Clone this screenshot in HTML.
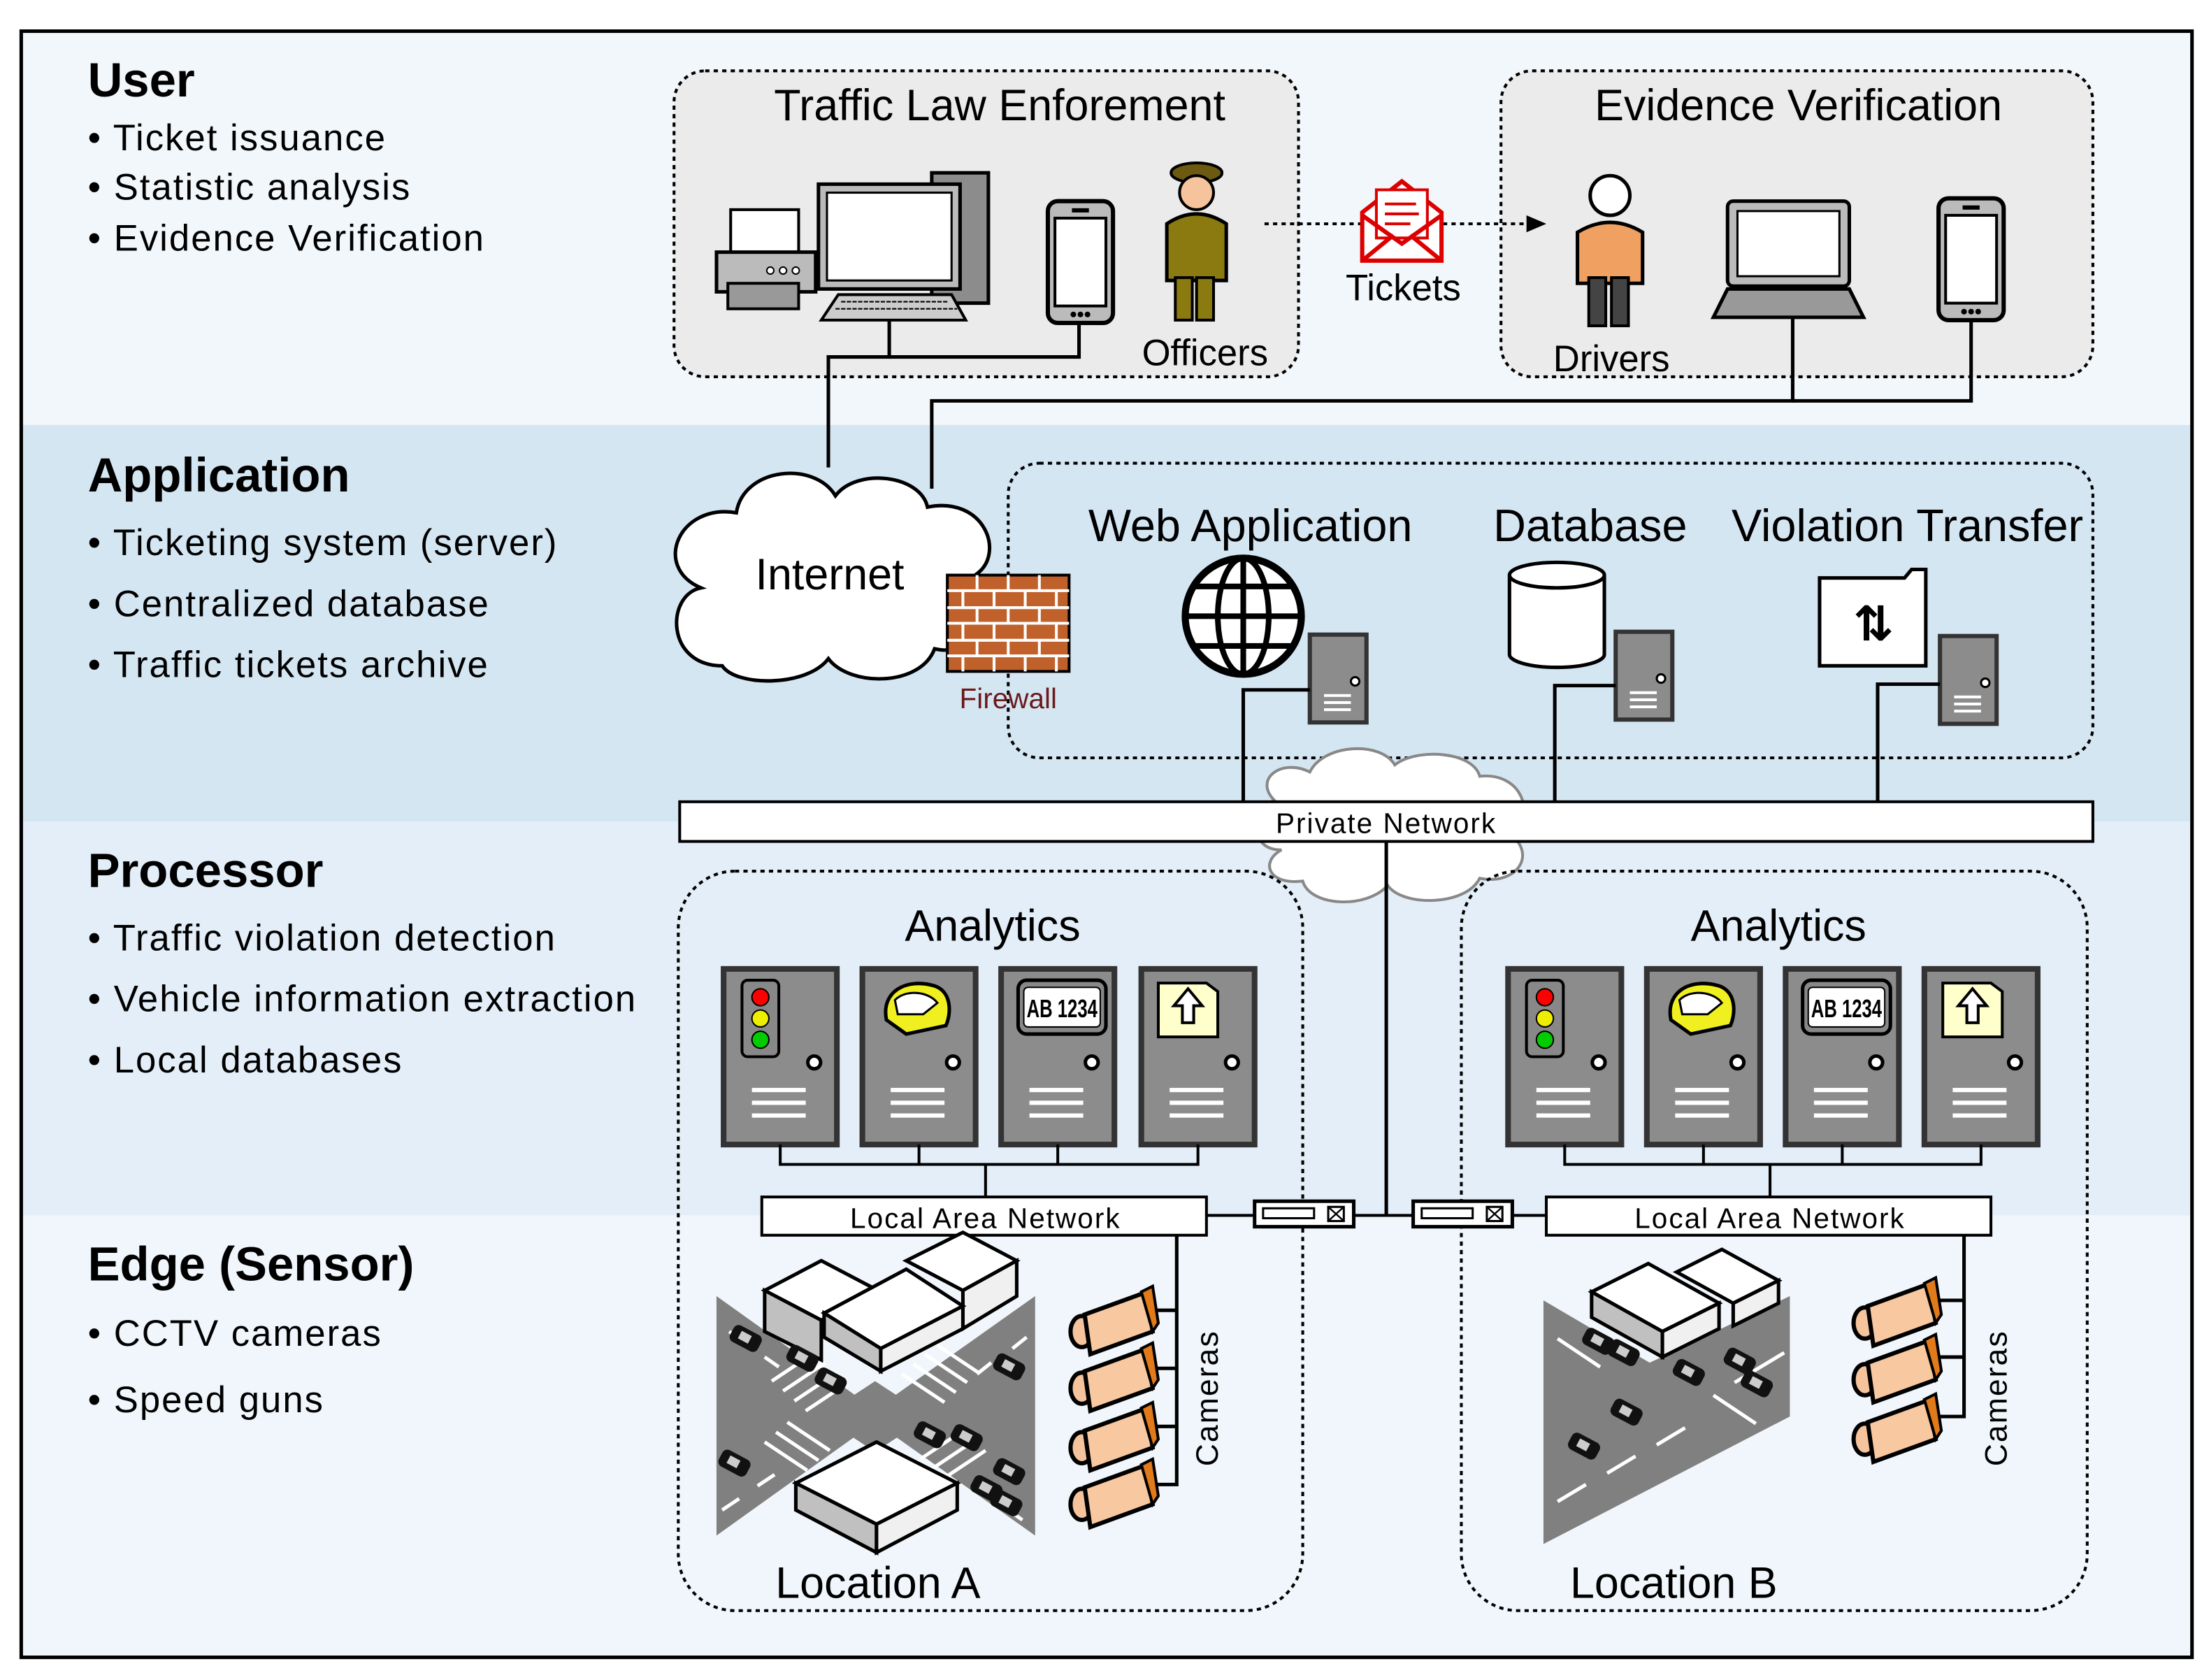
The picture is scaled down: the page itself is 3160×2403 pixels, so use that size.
<!DOCTYPE html>
<html><head><meta charset="utf-8"><style>
html,body{margin:0;padding:0;background:#fff;}
svg{display:block;}
text{font-family:"Liberation Sans","DejaVu Sans",sans-serif;fill:#000;}
</style></head><body>
<svg width="3160" height="2403" viewBox="0 0 1560 1186" preserveAspectRatio="none" xmlns="http://www.w3.org/2000/svg">
<defs>
 <g id="srv">
  <rect x="0" y="0" width="80" height="124" fill="#8c8c8c" stroke="#333" stroke-width="4"/>
  <circle cx="64" cy="66" r="4.5" fill="#fff" stroke="#000" stroke-width="2.5"/>
  <rect x="20" y="84" width="38" height="3" fill="#fff"/><rect x="20" y="93" width="38" height="3" fill="#fff"/><rect x="20" y="102" width="38" height="3" fill="#fff"/>
 </g>
 <g id="ssrv">
  <rect x="0" y="0" width="40" height="62" fill="#8c8c8c" stroke="#333" stroke-width="3"/>
  <circle cx="32" cy="33" r="3" fill="#fff" stroke="#000" stroke-width="1.5"/>
  <rect x="10" y="42" width="19" height="2" fill="#fff"/><rect x="10" y="47" width="19" height="2" fill="#fff"/><rect x="10" y="52" width="19" height="2" fill="#fff"/>
 </g>
 <g id="cam">
  <ellipse cx="4" cy="22" rx="8" ry="11" fill="#f6c49c" stroke="#000" stroke-width="3"/>
  <polygon points="6,10 50,-6 54,22 10,38" fill="#f8c8a0" stroke="#000" stroke-width="3"/>
  <polygon points="46,-6 54,-10 58,16 54,22" fill="#e07a1a" stroke="#000" stroke-width="2"/>
 </g>
 <g id="phone">
  <rect x="0" y="0" width="46" height="86" rx="7" fill="#bbb" stroke="#000" stroke-width="3"/>
  <rect x="5" y="12" width="36" height="62" fill="#fff" stroke="#000" stroke-width="2"/>
  <rect x="17" y="5" width="12" height="3" fill="#000"/>
  <circle cx="18" cy="80" r="2" fill="#000"/><circle cx="23" cy="80" r="2" fill="#000"/><circle cx="28" cy="80" r="2" fill="#000"/>
 </g>
 <g id="car">
  <rect x="0" y="0" width="22" height="13" rx="4" fill="#111" transform="rotate(28)"/>
  <rect x="6" y="3" width="8" height="6" fill="#ccc" transform="rotate(28)"/>
 </g>
 <g id="sw">
  <rect x="0" y="0" width="70" height="18" fill="#fff" stroke="#000" stroke-width="2.5"/>
  <rect x="6" y="5" width="36" height="7" fill="none" stroke="#000" stroke-width="1.5"/>
  <rect x="52" y="4" width="11" height="10" fill="none" stroke="#000" stroke-width="1.5"/>
  <path d="M52,4 L63,14 M63,4 L52,14" stroke="#000" stroke-width="1.2"/>
 </g>
</defs>

<rect x="15" y="22" width="1533" height="1148" fill="#f2f7fb"/>
<rect x="15" y="300" width="1533" height="280" fill="#d5e6f3"/>
<rect x="15" y="580" width="1533" height="278" fill="#e3eef8"/>
<rect x="15" y="858" width="1533" height="312" fill="#f0f6fb"/>
<rect x="15" y="22" width="1533" height="1148" fill="none" stroke="#000" stroke-width="2.5"/>

<g font-size="26" letter-spacing="1">
<text x="62" y="68" font-size="34" font-weight="bold" letter-spacing="0">User</text>
<text x="62" y="106">• Ticket issuance</text>
<text x="62" y="141">• Statistic analysis</text>
<text x="62" y="177">• Evidence Verification</text>
<text x="62" y="347" font-size="34" font-weight="bold" letter-spacing="0">Application</text>
<text x="62" y="392">• Ticketing system (server)</text>
<text x="62" y="435">• Centralized database</text>
<text x="62" y="478">• Traffic tickets archive</text>
<text x="62" y="626" font-size="34" font-weight="bold" letter-spacing="0">Processor</text>
<text x="62" y="671">• Traffic violation detection</text>
<text x="62" y="714">• Vehicle information extraction</text>
<text x="62" y="757">• Local databases</text>
<text x="62" y="904" font-size="34" font-weight="bold" letter-spacing="0">Edge (Sensor)</text>
<text x="62" y="950">• CCTV cameras</text>
<text x="62" y="997">• Speed guns</text>
</g>

<rect x="476" y="50" width="441" height="216" rx="22" fill="#ebebeb" stroke="#000" stroke-width="2" stroke-dasharray="3,3"/>
<rect x="1060" y="50" width="418" height="216" rx="22" fill="#ebebeb" stroke="#000" stroke-width="2" stroke-dasharray="3,3"/>
<text x="706" y="85" font-size="31" text-anchor="middle">Traffic Law Enforement</text>
<text x="1270" y="85" font-size="31" text-anchor="middle">Evidence Verification</text>

<rect x="516" y="148" width="48" height="32" fill="#fff" stroke="#000" stroke-width="2"/>
<rect x="506" y="178" width="70" height="28" fill="#bbb" stroke="#000" stroke-width="2.5"/>
<rect x="514" y="200" width="50" height="18" fill="#999" stroke="#000" stroke-width="2"/>
<circle cx="544" cy="191" r="2.5" fill="#fff" stroke="#000"/><circle cx="553" cy="191" r="2.5" fill="#fff" stroke="#000"/><circle cx="562" cy="191" r="2.5" fill="#fff" stroke="#000"/>
<rect x="658" y="122" width="40" height="92" fill="#8c8c8c" stroke="#000" stroke-width="2.5"/>
<rect x="578" y="130" width="100" height="74" fill="#bbb" stroke="#000" stroke-width="2.5"/>
<rect x="584" y="136" width="88" height="62" fill="#fff" stroke="#000" stroke-width="1.5"/>
<polygon points="592,208 672,208 682,226 580,226" fill="#ccc" stroke="#000" stroke-width="2"/>
<path d="M594,213 H670 M590,218 H676" stroke="#000" stroke-width="1" stroke-dasharray="3,1"/>
<use href="#phone" x="740" y="142"/>
<ellipse cx="845" cy="122" rx="18" ry="7" fill="#6b5a10" stroke="#000" stroke-width="2"/>
<circle cx="845" cy="136" r="12" fill="#f6c49c" stroke="#000" stroke-width="2"/>
<path d="M824,198 V158 Q845,144 866,158 V198 Z" fill="#8a7a10" stroke="#000" stroke-width="2.5"/>
<rect x="830" y="196" width="12" height="30" fill="#8a7a10" stroke="#000" stroke-width="2"/>
<rect x="845" y="196" width="12" height="30" fill="#8a7a10" stroke="#000" stroke-width="2"/>
<text x="851" y="258" font-size="26" text-anchor="middle">Officers</text>
<line x1="893" y1="158" x2="1080" y2="158" stroke="#000" stroke-width="2" stroke-dasharray="3,3"/>
<polygon points="1092,158 1078,152 1078,164" fill="#000"/>
<polygon points="962,150 990,128 1018,150 1018,184 962,184" fill="#fff" stroke="#d00" stroke-width="3"/>
<rect x="972" y="134" width="36" height="34" fill="#fff" stroke="#d00" stroke-width="2"/>
<path d="M978,144 H1000 M978,151 H1002 M978,158 H996" stroke="#d00" stroke-width="2"/>
<path d="M962,152 L990,172 L1018,152 M962,184 L984,166 M1018,184 L996,166" fill="none" stroke="#d00" stroke-width="3"/>
<text x="991" y="212" font-size="26" text-anchor="middle">Tickets</text>
<circle cx="1137" cy="138" r="14" fill="#fff" stroke="#000" stroke-width="2.5"/>
<path d="M1114,200 V164 Q1137,150 1160,164 V200 Z" fill="#f0a060" stroke="#000" stroke-width="2.5"/>
<rect x="1122" y="196" width="12" height="34" fill="#444" stroke="#000" stroke-width="2"/>
<rect x="1138" y="196" width="12" height="34" fill="#444" stroke="#000" stroke-width="2"/>
<text x="1138" y="262" font-size="26" text-anchor="middle">Drivers</text>
<rect x="1220" y="142" width="86" height="60" rx="4" fill="#bbb" stroke="#000" stroke-width="2.5"/>
<rect x="1227" y="149" width="72" height="46" fill="#fff" stroke="#000" stroke-width="1.5"/>
<polygon points="1220,204 1306,204 1316,224 1210,224" fill="#999" stroke="#000" stroke-width="2.5"/>
<use href="#phone" x="1369" y="140"/>

<g stroke="#000" stroke-width="2.5" fill="none">
<path d="M628,226 V252 H585 V330"/>
<path d="M762,228 V252 H628"/>
<path d="M1266,224 V283 H658 V345"/>
<path d="M1392,226 V283 H1266"/>
</g>

<rect x="712" y="327" width="766" height="208" rx="22" fill="none" stroke="#000" stroke-width="2" stroke-dasharray="3,3"/>
<path d="M510,470 C470,470 470,420 495,415 C460,400 480,355 520,362 C525,330 575,325 590,350 C605,330 650,335 655,358 C695,350 710,390 690,405 C715,430 690,465 660,458 C650,485 600,485 585,465 C570,485 520,485 510,470 Z" fill="#fff" stroke="#000" stroke-width="2.5"/>
<text x="586" y="416" font-size="31" text-anchor="middle">Internet</text>
<rect x="669" y="406" width="86" height="68" fill="#c0602a" stroke="#000" stroke-width="2"/>
<g stroke="#fff" stroke-width="2">
<path d="M669,417 H755 M669,429 H755 M669,440 H755 M669,452 H755 M669,463 H755"/>
<path d="M690,406 V417 M712,406 V417 M734,406 V417 M680,417 V429 M702,417 V429 M724,417 V429 M746,417 V429 M690,429 V440 M712,429 V440 M734,429 V440 M680,440 V452 M702,440 V452 M724,440 V452 M746,440 V452 M690,452 V463 M712,452 V463 M734,452 V463 M680,463 V474 M702,463 V474 M724,463 V474 M746,463 V474"/>
</g>
<text x="712" y="500" font-size="20" text-anchor="middle" style="fill:#6b1a1a">Firewall</text>

<text x="883" y="382" font-size="32" text-anchor="middle">Web Application</text>
<text x="1123" y="382" font-size="32" text-anchor="middle">Database</text>
<text x="1347" y="382" font-size="32" text-anchor="middle">Violation Transfer</text>
<circle cx="878" cy="435" r="41" fill="#fff" stroke="#000" stroke-width="5"/>
<ellipse cx="878" cy="435" rx="18" ry="41" fill="none" stroke="#000" stroke-width="4"/>
<path d="M878,394 V476 M837,435 H919 M843,414 H913 M843,456 H913" stroke="#000" stroke-width="4"/>
<use href="#ssrv" x="925" y="448"/>
<path d="M1066,406 V462 A33,9 0 0 0 1133,462 V406" fill="#fff" stroke="#000" stroke-width="2.5"/>
<ellipse cx="1099.5" cy="406" rx="33.5" ry="9" fill="#fff" stroke="#000" stroke-width="2.5"/>
<use href="#ssrv" x="1141" y="446"/>
<path d="M1285,408 H1345 L1350,402 H1360 V470 H1285 Z" fill="#fff" stroke="#000" stroke-width="2.5"/>
<text x="1323" y="452" font-size="34" font-weight="bold" text-anchor="middle">⇅</text>
<use href="#ssrv" x="1370" y="449"/>
<g stroke="#000" stroke-width="2.5" fill="none">
<path d="M925,487 H878 V566"/>
<path d="M1141,484 H1098 V566"/>
<path d="M1370,483 H1326 V566"/>
</g>

<path d="M905,600 C880,600 885,570 900,565 C885,550 905,535 925,545 C935,525 975,523 985,540 C1000,528 1040,530 1045,548 C1075,545 1085,575 1068,590 C1085,605 1070,625 1045,620 C1035,640 990,640 980,625 C965,642 925,640 920,622 C895,625 890,608 905,600 Z" fill="#fff" stroke="#888" stroke-width="2"/>
<rect x="480" y="566" width="998" height="28" fill="#fff" stroke="#000" stroke-width="2"/>
<text x="979" y="588" font-size="20" text-anchor="middle" letter-spacing="1">Private Network</text>
<line x1="979" y1="594" x2="979" y2="858" stroke="#000" stroke-width="2.5"/>

<rect x="479" y="615" width="441" height="522" rx="40" fill="none" stroke="#000" stroke-width="2" stroke-dasharray="3,3"/>
<rect x="1032" y="615" width="442" height="522" rx="40" fill="none" stroke="#000" stroke-width="2" stroke-dasharray="3,3"/>
<text x="701" y="664" font-size="31" text-anchor="middle">Analytics</text>
<text x="1256" y="664" font-size="31" text-anchor="middle">Analytics</text>

<use href="#srv" x="511" y="684"/><use href="#srv" x="609" y="684"/><use href="#srv" x="707" y="684"/><use href="#srv" x="806" y="684"/>
<use href="#srv" x="1065" y="684"/><use href="#srv" x="1163" y="684"/><use href="#srv" x="1261" y="684"/><use href="#srv" x="1359" y="684"/>
<g id="icA">
<rect x="524" y="692" width="26" height="54" rx="4" fill="#888" stroke="#000" stroke-width="2"/>
<circle cx="537" cy="704" r="6" fill="#f00" stroke="#000"/><circle cx="537" cy="719" r="6" fill="#ee0" stroke="#000"/><circle cx="537" cy="734" r="6" fill="#0c0" stroke="#000"/>
<path d="M626,720 C622,700 640,690 660,696 C672,700 672,715 668,724 L640,730 Z" fill="#f0f020" stroke="#000" stroke-width="2.5"/>
<path d="M632,706 C640,698 656,700 662,708 L652,716 L634,716 Z" fill="#fff" stroke="#000" stroke-width="1.5"/>
<rect x="719" y="692" width="62" height="38" rx="6" fill="#888" stroke="#000" stroke-width="2.5"/>
<rect x="723" y="697" width="54" height="28" rx="3" fill="#fff" stroke="#000" stroke-width="1"/>
<text x="750" y="718" font-size="18" font-weight="bold" text-anchor="middle" textLength="50" lengthAdjust="spacingAndGlyphs">AB 1234</text>
<path d="M818,694 H852 L860,700 V732 H818 Z" fill="#ffffcc" stroke="#000" stroke-width="2"/>
<path d="M839,698 L829,710 H835 V722 H843 V710 H849 Z" fill="#fff" stroke="#000" stroke-width="2"/>
</g>
<use href="#icA" x="554" y="0"/>

<g stroke="#000" stroke-width="2" fill="none">
<path d="M551,808 V822 H846 V808 M649,808 V822 M747,808 V822 M696,822 V845"/>
<path d="M1105,808 V822 H1399 V808 M1203,808 V822 M1301,808 V822 M1250,822 V845"/>
<path d="M852,858 H1092"/>
</g>
<rect x="538" y="845" width="314" height="27" fill="#fff" stroke="#000" stroke-width="2"/>
<text x="696" y="867" font-size="20" text-anchor="middle" letter-spacing="1">Local Area Network</text>
<rect x="1092" y="845" width="314" height="27" fill="#fff" stroke="#000" stroke-width="2"/>
<text x="1250" y="867" font-size="20" text-anchor="middle" letter-spacing="1">Local Area Network</text>
<use href="#sw" x="886" y="848"/><use href="#sw" x="998" y="848"/>

<!-- city A: X-shaped roads -->
<polygon points="506,915 618,995 731,915 731,1084 618,1004 506,1084" fill="#808080"/>
<polygon points="580,1000 618,975 656,1000 618,1025" fill="#808080"/>
<g stroke="#fff" stroke-width="2.5" fill="none">
<path d="M515,940 L525,947 M540,958 L550,965 M690,970 L700,962 M715,952 L725,944"/>
<path d="M510,1066 L522,1058 M535,1049 L547,1041 M690,1050 L700,1057 M712,1066 L722,1073"/>
<path d="M545,975 L575,955 M553,982 L583,962 M561,989 L591,969 M569,996 L599,976"/>
<path d="M637,970 L667,990 M645,963 L675,983 M653,956 L683,976 M661,949 L691,969"/>
<path d="M540,1018 L570,1038 M548,1011 L578,1031 M556,1004 L586,1024"/>
<path d="M650,1030 L680,1010 M658,1037 L688,1017 M666,1044 L696,1024"/>
</g>
<g stroke="#000" stroke-width="2.5">
<polygon points="540,911 580,890 620,911 580,932" fill="#fff"/>
<polygon points="540,911 580,932 580,960 540,940" fill="#c0c0c0"/>
<polygon points="640,890 680,870 718,890 680,911" fill="#fff"/>
<polygon points="680,911 718,890 718,915 680,938" fill="#f0f0f0"/>
<polygon points="582,927 640,896 680,922 622,952" fill="#fff"/>
<polygon points="582,927 622,952 622,968 582,944" fill="#c0c0c0"/>
<polygon points="622,952 680,922 680,938 622,968" fill="#f0f0f0"/>
<polygon points="562,1047 619,1018 676,1047 619,1076" fill="#fff"/>
<polygon points="562,1047 619,1076 619,1096 562,1066" fill="#c0c0c0"/>
<polygon points="619,1076 676,1047 676,1066 619,1096" fill="#f0f0f0"/>
</g>
<use href="#car" x="520" y="934"/><use href="#car" x="560" y="948"/><use href="#car" x="580" y="964"/><use href="#car" x="706" y="954"/><use href="#car" x="512" y="1022"/><use href="#car" x="650" y="1002"/><use href="#car" x="676" y="1004"/><use href="#car" x="706" y="1028"/><use href="#car" x="690" y="1040"/><use href="#car" x="704" y="1050"/>
<use href="#cam" x="760" y="918"/><use href="#cam" x="760" y="958"/><use href="#cam" x="760" y="1000"/><use href="#cam" x="760" y="1040"/>
<path d="M831,872 V1048 H816 M831,925 H816 M831,966 H816 M831,1007 H816" stroke="#000" stroke-width="2.5" fill="none"/>
<text transform="translate(860,987) rotate(-90)" font-size="22" text-anchor="middle" letter-spacing="1">Cameras</text>
<text x="620" y="1128" font-size="31" text-anchor="middle">Location A</text>

<!-- city B -->
<polygon points="1090,918 1165,962 1264,915 1264,1000 1090,1090" fill="#808080"/>
<g stroke="#fff" stroke-width="2.5" fill="none">
<path d="M1100,1060 L1120,1048 M1135,1040 L1155,1028 M1170,1020 L1190,1008 M1210,985 L1240,1005 M1100,945 L1130,965 M1225,976 L1260,955"/>
</g>
<g stroke="#000" stroke-width="2.5">
<polygon points="1124,912 1164,892 1214,920 1174,940" fill="#fff"/>
<polygon points="1124,912 1174,940 1174,958 1124,930" fill="#c0c0c0"/>
<polygon points="1174,940 1214,920 1214,938 1174,958" fill="#f0f0f0"/>
<polygon points="1184,898 1216,882 1256,904 1224,920" fill="#fff"/>
<polygon points="1224,920 1256,904 1256,920 1224,936" fill="#f0f0f0"/>
</g>
<use href="#car" x="1122" y="936"/><use href="#car" x="1140" y="944"/><use href="#car" x="1186" y="958"/><use href="#car" x="1222" y="950"/><use href="#car" x="1234" y="966"/><use href="#car" x="1142" y="986"/><use href="#car" x="1112" y="1010"/>
<use href="#cam" x="1313" y="912"/><use href="#cam" x="1313" y="952"/><use href="#cam" x="1313" y="994"/>
<path d="M1387,872 V1000 H1370 M1387,918 H1370 M1387,958 H1370" stroke="#000" stroke-width="2.5" fill="none"/>
<text transform="translate(1417,987) rotate(-90)" font-size="22" text-anchor="middle" letter-spacing="1">Cameras</text>
<text x="1182" y="1128" font-size="31" text-anchor="middle">Location B</text>
</svg>
</body></html>
